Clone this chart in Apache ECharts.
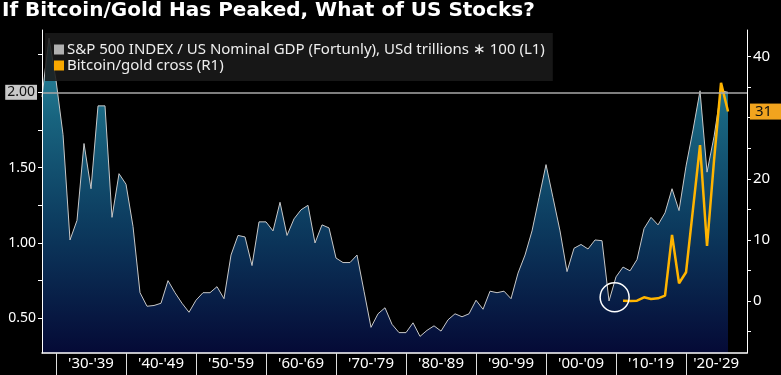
<!DOCTYPE html>
<html>
<head>
<meta charset="utf-8">
<script src="https://cdn.jsdelivr.net/npm/echarts@6/dist/echarts.min.js"></script>
<style>
html, body { margin: 0; padding: 0; background: #000; }
#chart { width: 781px; height: 375px; }
</style>
</head>
<body>
<div id="chart"></div>
<script>
// S&P 500 / nominal GDP, year-end readings starting with 1927
var ratioFirstYear = 1927;
var ratioVals = [
  1.97, 2.36, 2.08, 1.72, 1.02, 1.15, 1.66, 1.36, 1.91, 1.91,
  1.17, 1.46, 1.39, 1.11, 0.67, 0.58, 0.585, 0.60, 0.75, 0.67,
  0.60, 0.54, 0.62, 0.67, 0.67, 0.71, 0.63, 0.92, 1.05, 1.04,
  0.85, 1.14, 1.14, 1.08, 1.27, 1.05, 1.16, 1.22, 1.25, 1.00,
  1.12, 1.10, 0.90, 0.87, 0.87, 0.92, 0.68, 0.44, 0.53, 0.57,
  0.46, 0.405, 0.405, 0.47, 0.38, 0.42, 0.45, 0.415, 0.49, 0.53,
  0.51, 0.53, 0.62, 0.56, 0.68, 0.67, 0.68, 0.63, 0.80, 0.92,
  1.08, 1.30, 1.52, 1.30, 1.08, 0.81, 0.965, 0.99, 0.96, 1.02,
  1.015, 0.615, 0.775, 0.84, 0.815, 0.89, 1.095, 1.17, 1.12, 1.20,
  1.36, 1.215, 1.51, 1.75, 2.01, 1.47, 1.705, 2.01, 2.00
];
// bitcoin priced in ounces of gold, year-end from 2010
var btcFirstYear = 2010;
var btcVals = [0.05, 0, 0.05, 0.6, 0.33, 0.44, 0.87, 10.8, 2.9, 4.7, 15.1, 25.5, 9.0, 23.0, 35.7, 31];

var ratioName = 'S&P 500 INDEX / US Nominal GDP (Fortunly), USd trillions \u2217 100 (L1)';
var btcName = 'Bitcoin/gold cross (R1)';

var decadeTicks = [1930, 1940, 1950, 1960, 1970, 1980, 1990, 2000, 2010, 2020];
var decadeLabelPos = [1935, 1945, 1955, 1965, 1975, 1985, 1995, 2005, 2015, 2024.3];
var leftLabels = [0.5, 1.0, 1.5];
var leftTicks = [0.5, 0.75, 1.0, 1.25, 1.5, 1.75, 2.0, 2.25];
var rightLabels = [0, 10, 20, 40];
var rightTicks = [-5, 0, 5, 10, 15, 20, 25, 30, 35, 40];

// a year-end value sits at the start of the following year
var ratioData = ratioVals.map(function (v, i) { return [ratioFirstYear + i + 1, v]; });
var btcData = btcVals.map(function (v, i) { return [btcFirstYear + i + 1, v]; });
var lastRatio = ratioVals[ratioVals.length - 1];
var lastBtc = btcVals[btcVals.length - 1];
var lowYear = 2008;
var lowVal = ratioVals[lowYear - ratioFirstYear];

var font = 'Noto Sans';
var chart = echarts.init(document.getElementById('chart'));

var option = {
  backgroundColor: '#000',
  animation: false,
  title: {
    text: 'If Bitcoin/Gold Has Peaked, What of US Stocks?',
    left: 2,
    top: 1,
    padding: 0,
    textStyle: { color: '#fff', fontSize: 20, fontWeight: 'bold', fontFamily: 'DejaVu Sans' }
  },
  legend: {
    data: [ratioName, btcName],
    orient: 'vertical',
    left: 45,
    top: 33,
    padding: [9, 8, 8, 9],
    itemGap: 1,
    itemWidth: 10,
    itemHeight: 10,
    icon: 'rect',
    selectedMode: false,
    backgroundColor: 'rgba(26,26,26,0.88)',
    textStyle: { color: '#eee', fontSize: 15, fontFamily: font, padding: [0, 0, 0, -2] }
  },
  grid: { left: 42, right: 34, top: 30, bottom: 22 },
  xAxis: {
    type: 'value',
    min: 1928,
    max: 2028.71,
    z: 5,
    axisLine: { onZero: false, lineStyle: { color: '#fff', width: 1.5 } },
    splitLine: { show: false },
    axisTick: { customValues: decadeTicks, length: 22, lineStyle: { color: '#ddd' } },
    axisLabel: {
      customValues: decadeLabelPos,
      color: '#fff',
      fontSize: 15,
      fontFamily: font,
      margin: 3,
      formatter: function (v) {
        var d = Math.floor(v / 10) * 10;
        var a = ('0' + (d % 100)).slice(-2);
        var b = ('0' + ((d + 9) % 100)).slice(-2);
        return "'" + a + "-'" + b;
      }
    }
  },
  yAxis: [
    {
      type: 'value',
      position: 'left',
      min: 0.2697,
      max: 2.4135,
      z: 5,
      axisLine: { show: true, onZero: false, lineStyle: { color: '#fff' } },
      splitLine: { show: false },
      axisTick: { show: true, customValues: leftTicks, length: 4, lineStyle: { color: '#fff' } },
      axisLabel: {
        customValues: leftLabels,
        color: '#fff',
        fontSize: 14,
        fontFamily: font,
        margin: 6,
        formatter: function (v) { return v.toFixed(2); }
      }
    },
    {
      type: 'value',
      position: 'right',
      min: -8.51,
      max: 44.35,
      z: 5,
      axisLine: { show: true, onZero: false, lineStyle: { color: '#fff' } },
      splitLine: { show: false },
      axisTick: { show: true, customValues: rightTicks, length: 4, lineStyle: { color: '#fff' } },
      axisLabel: {
        customValues: rightLabels,
        color: '#fff',
        fontSize: 15,
        fontFamily: font,
        margin: 6
      }
    }
  ],
  series: [
    {
      name: ratioName,
      type: 'line',
      yAxisIndex: 0,
      data: ratioData,
      symbol: 'none',
      lineStyle: { color: '#c8c8c8', width: 1 },
      itemStyle: { color: '#b0b0b0' },
      areaStyle: {
        origin: 'start',
        opacity: 1,
        color: new echarts.graphic.LinearGradient(0, 0, 0, 1, [
          { offset: 0, color: '#2f8fa5' },
          { offset: 0.25, color: '#18647f' },
          { offset: 0.6, color: '#0c3a5e' },
          { offset: 1, color: '#050a36' }
        ])
      },
      markLine: {
        silent: true,
        symbol: ['none', 'none'],
        lineStyle: { color: '#a8a8a8', width: 1.5, type: 'solid' },
        label: {
          position: 'start',
          distance: 5,
          formatter: lastRatio.toFixed(2),
          color: '#111',
          backgroundColor: '#c8c8c8',
          padding: [1, 2, 0, 2],
          fontSize: 14,
          fontFamily: font
        },
        data: [{ yAxis: lastRatio }]
      },
      markPoint: {
        silent: true,
        symbol: 'circle',
        symbolSize: 29,
        itemStyle: { color: 'rgba(0,0,0,0)', borderColor: '#fff', borderWidth: 1.5 },
        label: { show: false },
        data: [{ coord: [lowYear + 1.8, lowVal + 0.025] }]
      }
    },
    {
      name: btcName,
      type: 'line',
      yAxisIndex: 1,
      data: btcData,
      symbol: 'none',
      z: 3,
      lineStyle: { color: '#ffb400', width: 2.5 },
      itemStyle: { color: '#f8a800' },
      markLine: {
        silent: true,
        symbol: ['none', 'none'],
        lineStyle: { color: 'rgba(0,0,0,0)', width: 0 },
        label: {
          position: 'end',
          distance: 3,
          formatter: String(Math.round(lastBtc)),
          color: '#111',
          backgroundColor: '#f2a41e',
          padding: [1, 9, 0, 5],
          fontSize: 15,
          fontFamily: font
        },
        data: [{ yAxis: lastBtc }]
      }
    }
  ],
  graphic: [
    {
      type: 'group',
      left: 64,
      top: 330,
      children: [
        { type: 'rect', shape: { x: 0, y: 0, width: 33, height: 22 }, style: { fill: '#1b1d2e', stroke: '#3a3d55' } },
        { type: 'rect', shape: { x: 4, y: 3, width: 17, height: 15 }, style: { fill: '#2a2f45', stroke: '#8a90a8' } },
        { type: 'polyline', shape: { points: [[6, 15], [10, 10], [13, 12], [19, 6]] }, style: { stroke: '#c0c4d4', fill: null, lineWidth: 1 } },
        { type: 'polygon', shape: { points: [[25, 10], [30, 10], [27.5, 13]] }, style: { fill: '#8a90a8' } }
      ]
    },
    {
      type: 'text',
      left: 175,
      top: 337,
      style: { text: 'Mike McGlone - Bloomberg Intelligence', fill: '#fff', fontSize: 11, fontFamily: font }
    }
  ]
};

chart.setOption(option);
</script>
</body>
</html>
